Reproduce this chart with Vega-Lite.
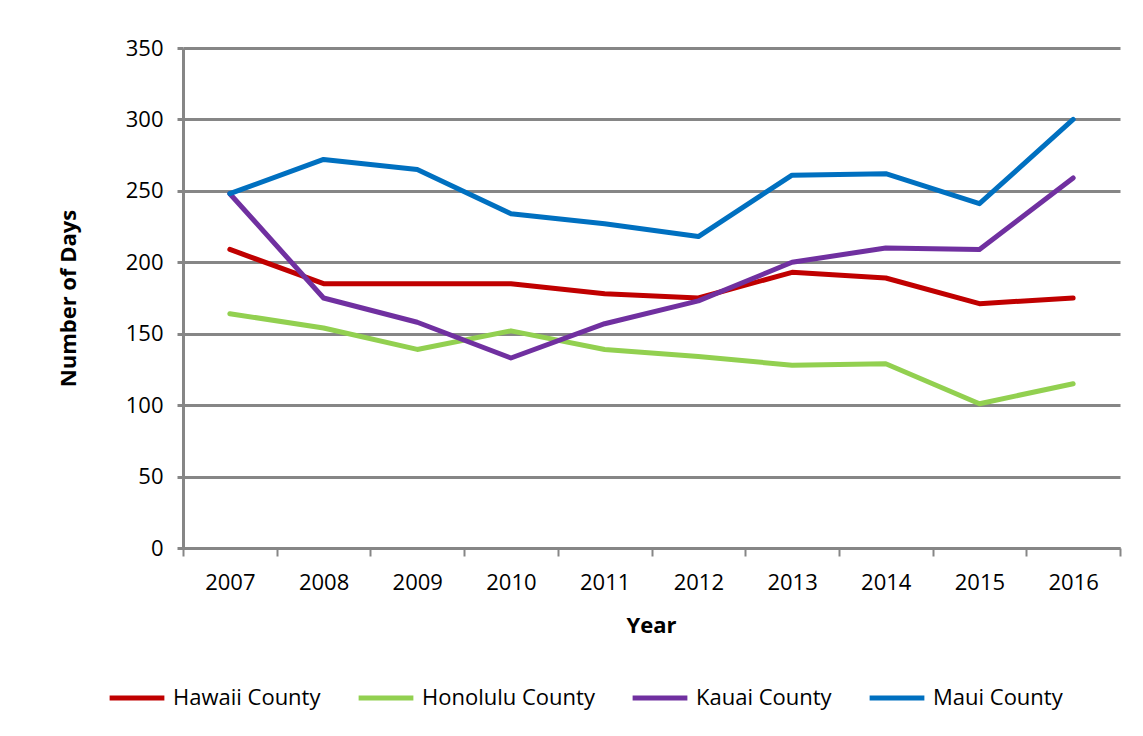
{
  "$schema": "https://vega.github.io/schema/vega-lite/v6.json",
  "autosize": "none",
  "width": 937,
  "height": 500,
  "padding": {"left": 183, "top": 48, "right": 23, "bottom": 188},
  "background": "white",
  "config": {
    "view": {"stroke": null},
    "font": "Open Sans"
  },
  "data": {
    "values": [
      {"Year": "2007", "County": "Hawaii County", "Days": 209},
      {"Year": "2008", "County": "Hawaii County", "Days": 185},
      {"Year": "2009", "County": "Hawaii County", "Days": 185},
      {"Year": "2010", "County": "Hawaii County", "Days": 185},
      {"Year": "2011", "County": "Hawaii County", "Days": 178},
      {"Year": "2012", "County": "Hawaii County", "Days": 175},
      {"Year": "2013", "County": "Hawaii County", "Days": 193},
      {"Year": "2014", "County": "Hawaii County", "Days": 189},
      {"Year": "2015", "County": "Hawaii County", "Days": 171},
      {"Year": "2016", "County": "Hawaii County", "Days": 175},
      {"Year": "2007", "County": "Honolulu County", "Days": 164},
      {"Year": "2008", "County": "Honolulu County", "Days": 154},
      {"Year": "2009", "County": "Honolulu County", "Days": 139},
      {"Year": "2010", "County": "Honolulu County", "Days": 152},
      {"Year": "2011", "County": "Honolulu County", "Days": 139},
      {"Year": "2012", "County": "Honolulu County", "Days": 134},
      {"Year": "2013", "County": "Honolulu County", "Days": 128},
      {"Year": "2014", "County": "Honolulu County", "Days": 129},
      {"Year": "2015", "County": "Honolulu County", "Days": 101},
      {"Year": "2016", "County": "Honolulu County", "Days": 115},
      {"Year": "2007", "County": "Kauai County", "Days": 248},
      {"Year": "2008", "County": "Kauai County", "Days": 175},
      {"Year": "2009", "County": "Kauai County", "Days": 158},
      {"Year": "2010", "County": "Kauai County", "Days": 133},
      {"Year": "2011", "County": "Kauai County", "Days": 157},
      {"Year": "2012", "County": "Kauai County", "Days": 173},
      {"Year": "2013", "County": "Kauai County", "Days": 200},
      {"Year": "2014", "County": "Kauai County", "Days": 210},
      {"Year": "2015", "County": "Kauai County", "Days": 209},
      {"Year": "2016", "County": "Kauai County", "Days": 259},
      {"Year": "2007", "County": "Maui County", "Days": 248},
      {"Year": "2008", "County": "Maui County", "Days": 272},
      {"Year": "2009", "County": "Maui County", "Days": 265},
      {"Year": "2010", "County": "Maui County", "Days": 234},
      {"Year": "2011", "County": "Maui County", "Days": 227},
      {"Year": "2012", "County": "Maui County", "Days": 218},
      {"Year": "2013", "County": "Maui County", "Days": 261},
      {"Year": "2014", "County": "Maui County", "Days": 262},
      {"Year": "2015", "County": "Maui County", "Days": 241},
      {"Year": "2016", "County": "Maui County", "Days": 300}
    ]
  },
  "mark": {"type": "line", "strokeWidth": 5, "strokeCap": "round", "strokeJoin": "round"},
  "encoding": {
    "x": {
      "field": "Year",
      "type": "ordinal",
      "bandPosition": 0.5,
      "scale": {"type": "band", "paddingInner": 0, "paddingOuter": 0},
      "axis": {
        "title": "Year",
        "titleFont": "Open Sans",
        "titleFontSize": 22,
        "titleFontWeight": "bold",
        "titleColor": "black",
        "titleX": 468,
        "titleY": 77,
        "titleAlign": "center",
        "titleBaseline": "middle",
        "labelAngle": 0,
        "labelFont": "Open Sans",
        "labelFontSize": 22,
        "labelColor": "black",
        "labelPadding": 16,
        "tickBand": "extent",
        "tickSize": 8,
        "tickWidth": 2,
        "tickColor": "#868686",
        "domainColor": "#868686",
        "domainWidth": 3,
        "grid": false
      }
    },
    "y": {
      "field": "Days",
      "type": "quantitative",
      "scale": {"domain": [0, 350], "nice": false, "zero": true},
      "axis": {
        "title": "Number of Days",
        "titleFont": "Open Sans",
        "titleFontSize": 22,
        "titleFontWeight": "bold",
        "titleColor": "black",
        "titleAngle": -90,
        "titleX": -115,
        "titleY": 250,
        "titleAlign": "center",
        "titleBaseline": "middle",
        "values": [0, 50, 100, 150, 200, 250, 300, 350],
        "labelFont": "Open Sans",
        "labelFontSize": 22,
        "labelColor": "black",
        "labelPadding": 14,
        "tickSize": 6,
        "tickWidth": 3,
        "tickColor": "#868686",
        "domainColor": "#868686",
        "domainWidth": 3,
        "grid": true,
        "gridColor": "#868686",
        "gridWidth": 3
      }
    },
    "color": {
      "field": "County",
      "type": "nominal",
      "scale": {
        "domain": ["Hawaii County", "Honolulu County", "Kauai County", "Maui County"],
        "range": ["#C00000", "#92D050", "#7030A0", "#0070C0"]
      },
      "legend": {
        "title": null,
        "orient": "none",
        "direction": "horizontal",
        "legendX": -76,
        "legendY": 620,
        "columns": 4,
        "columnPadding": 27,
        "symbolType": "stroke",
        "symbolSize": 3000,
        "symbolStrokeWidth": 5,
        "labelFont": "Open Sans",
        "labelFontSize": 22,
        "labelColor": "black",
        "labelOffset": 6,
        "labelLimit": 400
      }
    }
  }
}
